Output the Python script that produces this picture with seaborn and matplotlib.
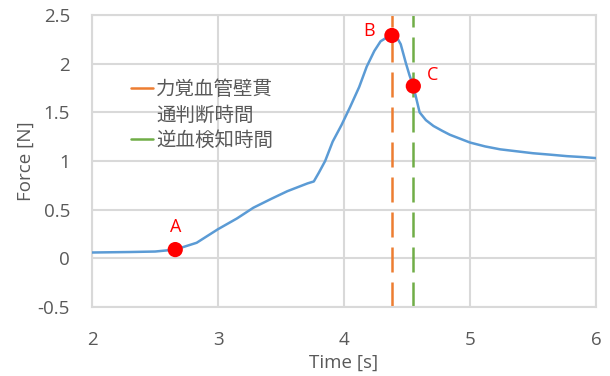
import numpy as np
import pandas as pd
import seaborn as sns
import matplotlib.pyplot as plt
from matplotlib.lines import Line2D

# force curve
time_s = [2.0, 2.3, 2.5, 2.66, 2.83, 3.0, 3.15, 3.28, 3.42, 3.55, 3.65, 3.71, 3.76,
          3.8, 3.85, 3.91, 3.98, 4.05, 4.12, 4.18, 4.24, 4.29, 4.34, 4.38, 4.42,
          4.45, 4.49, 4.52, 4.55, 4.6, 4.65, 4.71, 4.78, 4.84, 4.92, 5.0, 5.12,
          5.24, 5.37, 5.5, 5.64, 5.77, 5.9, 6.0]
force_n = [0.06, 0.065, 0.07, 0.09, 0.16, 0.30, 0.41, 0.52, 0.61, 0.69, 0.74, 0.77, 0.79,
           0.88, 1.0, 1.2, 1.37, 1.56, 1.76, 1.97, 2.13, 2.23, 2.27, 2.29, 2.27,
           2.2, 2.01, 1.88, 1.77, 1.5, 1.42, 1.36, 1.31, 1.27, 1.23, 1.19, 1.15,
           1.12, 1.1, 1.08, 1.065, 1.05, 1.04, 1.03]

point_labels = ['A', 'B', 'C']
point_time = [2.66, 4.38, 4.55]
point_force = [0.09, 2.29, 1.77]

# first label wraps onto two lines in the legend
event_labels = [['力覚血管壁貫', '通判断時間'], ['逆血検知時間']]
event_time = [4.38, 4.55]
event_colors = ['#ED7D31', '#70AD47']

df = pd.DataFrame({'time': time_s, 'force': force_n})
pts = pd.DataFrame({'time': point_time, 'force': point_force, 'label': point_labels})

sns.set_style('white')
plt.rcParams['font.family'] = ['Open Sans', 'Noto Sans CJK JP', 'DejaVu Sans']
grey = '#595959'

fig = plt.figure(figsize=(6.1, 3.76), dpi=100)
ax = fig.add_axes([0.151, 0.1835, 0.826, 0.7765])

sns.lineplot(data=df, x='time', y='force', color='#5B9BD5', linewidth=1.8, ax=ax,
             zorder=3)

for t, c in zip(event_time, event_colors):
    ax.axvline(t, color=c, linewidth=1.8, dashes=(10, 4), zorder=2)

sns.scatterplot(data=pts, x='time', y='force', color='#FF0000', s=120,
                edgecolor='none', ax=ax, zorder=4)
offsets = {'A': (0, 0.23), 'B': (-0.18, 0.05), 'C': (0.15, 0.11)}
for _, r in pts.iterrows():
    dx, dy = offsets[r['label']]
    ax.text(r['time'] + dx, r['force'] + dy, r['label'], color='#FF0000',
            fontsize=13, ha='center', va='center')

ax.set_xlim(2, 6)
ax.set_ylim(-0.5, 2.5)
ax.set_xticks([2, 3, 4, 5, 6])
ax.set_yticks([-0.5, 0, 0.5, 1, 1.5, 2, 2.5])
ax.set_yticklabels(['-0.5', '0', '0.5', '1', '1.5', '2', '2.5'])
ax.grid(True, color='#D9D9D9', linewidth=1.5)
for s in ax.spines.values():
    s.set_color('#D9D9D9')
    s.set_linewidth(1.5)
ax.tick_params(axis='x', length=0, pad=17, labelsize=13.5, labelcolor=grey)
ax.tick_params(axis='y', length=0, pad=16, labelsize=13.5, labelcolor=grey)
ax.set_xlabel('Time [s]', fontsize=13.5, color=grey, labelpad=4)
ax.set_ylabel('Force [N]', fontsize=13.5, color=grey, labelpad=2)

handles, labels = [], []
for lines, c in zip(event_labels, event_colors):
    for i, line in enumerate(lines):
        handles.append(Line2D([], [], color=c if i == 0 else 'none',
                              linewidth=1.8, linestyle='solid'))
        labels.append(line)
leg = ax.legend(handles, labels, loc='upper left',
                bbox_to_anchor=(0.062, 0.8025), frameon=False,
                fontsize=14, handlelength=1.13, handletextpad=0.15,
                labelspacing=0.35, borderaxespad=0)
for txt in leg.get_texts():
    txt.set_color(grey)

fig.savefig('out.png', dpi=100)
